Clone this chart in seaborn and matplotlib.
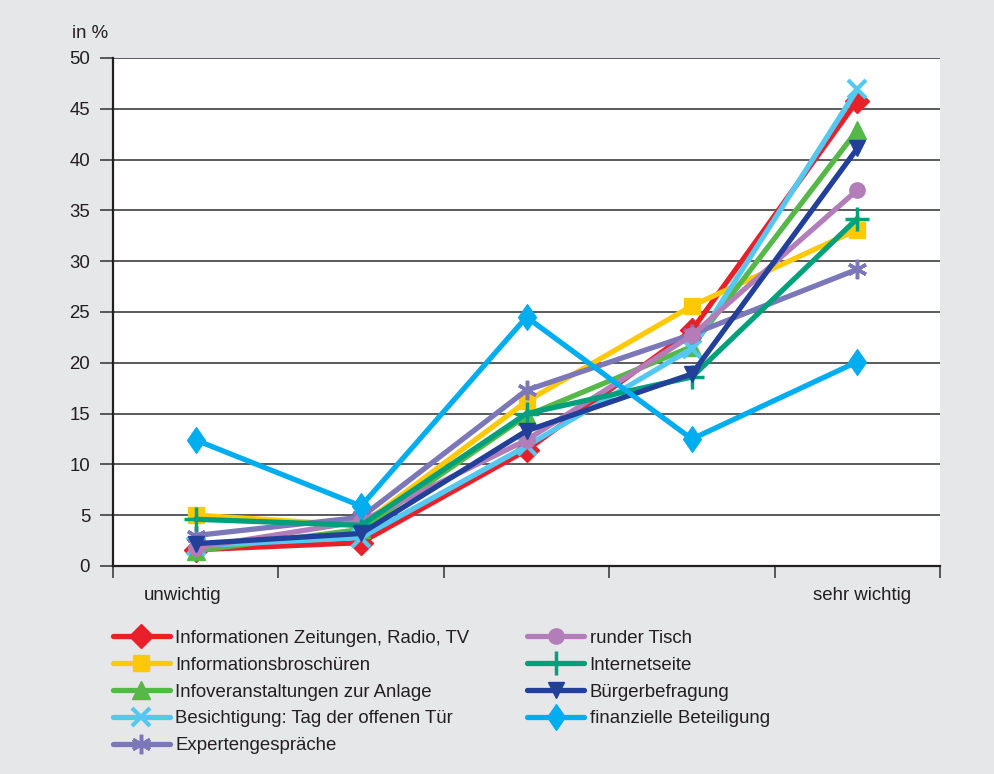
import matplotlib
matplotlib.use("Agg")
import matplotlib.pyplot as plt
from matplotlib.path import Path
import numpy as np
import pandas as pd
import seaborn as sns

sns.set_theme(style="white")
plt.rcParams["font.family"] = ["Liberation Sans", "DejaVu Sans"]

categories = [0, 1, 2, 3, 4]
category_labels = ["unwichtig", "sehr wichtig"]

series_names = [
    "Informationen Zeitungen, Radio, TV",
    "Informationsbroschüren",
    "Infoveranstaltungen zur Anlage",
    "Besichtigung: Tag der offenen Tür",
    "Expertengespräche",
    "runder Tisch",
    "Internetseite",
    "Bürgerbefragung",
    "finanzielle Beteiligung",
]

zeitungen = [1.6, 2.3, 11.4, 23.2, 45.8]
broschueren = [5.0, 4.0, 16.2, 25.6, 33.1]
infoveranst = [1.5, 3.6, 14.8, 21.6, 42.9]
besichtigung = [2.0, 2.8, 11.8, 21.4, 46.9]
experten = [3.0, 4.8, 17.3, 22.8, 29.2]
runder_tisch = [1.8, 4.4, 12.4, 22.7, 37.0]
internet = [4.6, 4.0, 15.0, 18.6, 34.2]
buerger = [2.2, 3.2, 13.3, 18.9, 41.1]
finanziell = [12.4, 5.9, 24.5, 12.5, 20.1]

values = [zeitungen, broschueren, infoveranst, besichtigung, experten,
          runder_tisch, internet, buerger, finanziell]

colors = ["#e8202a", "#ffc907", "#55b848", "#54c8f0", "#7b77b9",
          "#b27db8", "#00a07a", "#22409a", "#00aeef"]

# tall diamond and asterisk marker shapes
tall_diamond = Path([(0, 1.3), (0.9, 0), (0, -1.3), (-0.9, 0), (0, 1.3)],
                    [Path.MOVETO, Path.LINETO, Path.LINETO, Path.LINETO, Path.CLOSEPOLY])
markers = ["D", "s", "^", "x", (6, 2, 0), "o", "+", "v", tall_diamond]
msizes = [12.5, 11, 13, 13.5, 14, 11, 17, 12, 18.5]
mew = [1, 1, 1, 3, 2.5, 1, 2.5, 1, 1]

rows = []
for name, vals in zip(series_names, values):
    for c, v in zip(categories, vals):
        rows.append({"Kategorie": c, "Wert": v, "Reihe": name})
df = pd.DataFrame(rows)

FS = 13.4
INK = "#231f20"
GRID = "#4d4d4f"

fig = plt.figure(figsize=(9.94, 7.74), dpi=100)
fig.patch.set_facecolor("#e6e7e8")
ax = fig.add_axes([113 / 994, 1 - 566 / 774, (940 - 113) / 994, (566 - 58) / 774])
ax.set_facecolor("white")

for name, col, mk, ms, mw in zip(series_names, colors, markers, msizes, mew):
    sub = df[df["Reihe"] == name]
    sns.lineplot(data=sub, x="Kategorie", y="Wert", ax=ax, color=col,
                 marker=mk, markersize=ms, markeredgewidth=mw,
                 markeredgecolor=col, linewidth=3.8, label=name,
                 solid_joinstyle="miter")

ax.set_xlim(-0.5, 4.5)
ax.set_ylim(0, 50)
ax.set_yticks(np.arange(0, 51, 5))
ax.yaxis.grid(True, color=GRID, linewidth=1.3)
ax.set_axisbelow(True)
ax.tick_params(axis="y", length=9.4, width=1.3, color=GRID,
               labelsize=FS, labelcolor=INK, pad=7, left=True)

# boundary ticks between the answer categories
ax.set_xticks(np.arange(-0.5, 4.6, 1.0))
ax.set_xticklabels([])
ax.tick_params(axis="x", which="major", length=8.6, width=1.3, color=GRID, bottom=True)
# end labels of the scale
ax.set_xticks([categories[0] - 0.08, categories[-1] + 0.03], minor=True)
ax.set_xticklabels(category_labels, minor=True)
ax.tick_params(axis="x", which="minor", length=0, labelsize=FS,
               labelcolor=INK, pad=15)

for s in ["top", "right"]:
    ax.spines[s].set_visible(False)
ax.spines["left"].set_color(INK)
ax.spines["left"].set_linewidth(1.6)
ax.spines["bottom"].set_color(INK)
ax.spines["bottom"].set_linewidth(1.6)
ax.set_xlabel("")
ax.set_ylabel("")

fig.text(72 / 994, 1 - 33 / 774, "in %", fontsize=FS, color=INK,
         va="center", ha="left")

if ax.legend_:
    ax.legend_.remove()
handles, labels = ax.get_legend_handles_labels()
fig.legend(handles, labels, ncol=2, frameon=False,
           loc="upper left", bbox_to_anchor=(96 / 994, 1 - 613 / 774),
           fontsize=FS, handlelength=3.06, handletextpad=0.3,
           columnspacing=3.1, labelspacing=0.53, labelcolor=INK)

fig.savefig("out.png", dpi=100, facecolor=fig.get_facecolor())
